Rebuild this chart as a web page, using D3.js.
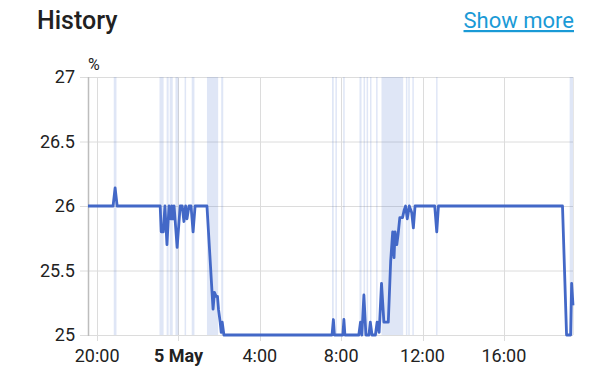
<!DOCTYPE html>
<html>
<head>
<meta charset="utf-8">
<script src="https://cdn.jsdelivr.net/npm/d3@7"></script>
<style>
  html, body { margin: 0; padding: 0; background: #fff; }
  body { width: 612px; height: 376px; overflow: hidden; font-family: Roboto, "Noto Sans", sans-serif; }
</style>
</head>
<body>
<svg id="chart" width="612" height="376"></svg>
<script>
const times = [
  "05-04 19:33", "05-04 20:47", "05-04 20:53", "05-04 20:59", "05-04 23:06", "05-04 23:09",
  "05-04 23:15", "05-04 23:20", "05-04 23:26", "05-04 23:32", "05-04 23:37", "05-04 23:40",
  "05-04 23:43", "05-04 23:47", "05-04 23:56", "05-05 00:05", "05-05 00:11", "05-05 00:16",
  "05-05 00:21", "05-05 00:25", "05-05 00:31", "05-05 00:37", "05-05 00:43", "05-05 00:49",
  "05-05 01:24", "05-05 01:39", "05-05 01:42", "05-05 01:46", "05-05 01:51", "05-05 01:55",
  "05-05 01:58", "05-05 02:03", "05-05 02:06", "05-05 02:09", "05-05 02:14", "05-05 07:33",
  "05-05 07:37", "05-05 07:40", "05-05 08:05", "05-05 08:08", "05-05 08:11", "05-05 08:52",
  "05-05 08:57", "05-05 09:01", "05-05 09:07", "05-05 09:13", "05-05 09:22", "05-05 09:26",
  "05-05 09:31", "05-05 09:41", "05-05 09:46", "05-05 09:52", "05-05 09:59", "05-05 10:06",
  "05-05 10:19", "05-05 10:26", "05-05 10:32", "05-05 10:36", "05-05 10:39", "05-05 10:44",
  "05-05 10:48", "05-05 10:53", "05-05 11:01", "05-05 11:06", "05-05 11:10", "05-05 11:15",
  "05-05 11:21", "05-05 11:28", "05-05 11:33", "05-05 11:38", "05-05 12:36", "05-05 12:42",
  "05-05 12:47", "05-05 18:53", "05-05 19:05", "05-05 19:17", "05-05 19:20", "05-05 19:24"
];
const values = [
  26, 26, 26.14, 26, 26, 25.8,
  25.8, 26, 25.7, 26, 25.9, 26,
  25.9, 26, 25.68, 26, 26, 25.88,
  26, 25.9, 26, 26, 25.8, 26,
  26, 25.33, 25.2, 25.33, 25.3, 25.3,
  25.2, 25.1, 25.02, 25.1, 25, 25,
  25.12, 25, 25, 25.12, 25, 25,
  25.1, 25, 25.31, 25, 25, 25.1,
  25, 25, 25.1, 25.02, 25.4, 25.1,
  25.1, 25.57, 25.8, 25.6, 25.8, 25.7,
  25.78, 25.91, 25.91, 25.97, 26, 25.9,
  26, 25.95, 25.83, 26, 26, 25.8,
  26, 26, 25, 25, 25.4, 25.23
];

// shaded spans (start, end)
const bandStarts = [
  "05-04 20:49", "05-04 23:04", "05-04 23:25", "05-04 23:34", "05-04 23:51", "05-05 00:18",
  "05-05 00:39", "05-05 01:24", "05-05 02:06", "05-05 07:33", "05-05 07:43", "05-05 08:06",
  "05-05 08:54", "05-05 09:06", "05-05 09:15", "05-05 09:25", "05-05 09:43", "05-05 09:59",
  "05-05 11:11", "05-05 11:18", "05-05 11:30", "05-05 12:40", "05-05 19:14"
];
const bandEnds = [
  "05-04 20:57", "05-04 23:16", "05-04 23:31", "05-04 23:43", "05-05 00:00", "05-05 00:22",
  "05-05 00:47", "05-05 01:57", "05-05 02:12", "05-05 07:38", "05-05 07:46", "05-05 08:09",
  "05-05 09:00", "05-05 09:10", "05-05 09:18", "05-05 09:29", "05-05 09:47", "05-05 11:03",
  "05-05 11:15", "05-05 11:22", "05-05 11:33", "05-05 12:44", "05-05 19:24"
];

const domainTimes = ["05-04 19:33", "05-05 19:24"];
const xTickTimes = ["05-04 20:00", "05-05 00:00", "05-05 04:00", "05-05 08:00", "05-05 12:00", "05-05 16:00"];
const yTicks = [25, 25.5, 26, 26.5, 27];

const parse = d3.timeParse("%m-%d %H:%M");

const plotLeft = 88, plotRight = 573, plotTop = 77, plotBottom = 335;

const svg = d3.select("#chart");

const x = d3.scaleTime()
  .domain(domainTimes.map(parse))
  .range([plotLeft, plotRight]);

const y = d3.scaleLinear()
  .domain([25, 27])
  .range([plotBottom, plotTop]);

// header
svg.append("text")
  .attr("x", 37).attr("y", 29)
  .attr("font-size", 25).attr("font-weight", 500)
  .attr("fill", "#212121")
  .text("History");

svg.append("text")
  .attr("x", 574).attr("y", 28)
  .attr("text-anchor", "end")
  .attr("font-size", 22)
  .attr("fill", "#1a9ad6")
  .attr("text-decoration", "underline")
  .text("Show more");

// unit
svg.append("text")
  .attr("x", 88).attr("y", 70)
  .attr("font-size", 16)
  .attr("fill", "#222")
  .text("%");

// grid
const grid = svg.append("g");

grid.selectAll("line.h")
  .data(yTicks)
  .enter().append("line")
  .attr("class", "h")
  .attr("x1", plotLeft - 8).attr("x2", plotRight)
  .attr("y1", d => y(d) + 0.5).attr("y2", d => y(d) + 0.5)
  .attr("stroke", "#dcdcdc").attr("stroke-width", 1);

grid.selectAll("line.v")
  .data(xTickTimes.map(parse))
  .enter().append("line")
  .attr("class", "v")
  .attr("x1", d => Math.round(x(d)) + 0.5).attr("x2", d => Math.round(x(d)) + 0.5)
  .attr("y1", plotTop).attr("y2", plotBottom + 6)
  .attr("stroke", "#dcdcdc").attr("stroke-width", 1);

// right border
grid.append("line")
  .attr("x1", plotRight + 0.5).attr("x2", plotRight + 0.5)
  .attr("y1", plotTop).attr("y2", plotBottom)
  .attr("stroke", "#e6e6e6");

// bands
svg.append("g")
  .selectAll("rect")
  .data(bandStarts.map((s, i) => [parse(s), parse(bandEnds[i])]))
  .enter().append("rect")
  .attr("x", d => x(d[0]))
  .attr("width", d => Math.max(1.5, x(d[1]) - x(d[0])))
  .attr("y", plotTop)
  .attr("height", plotBottom - plotTop)
  .attr("fill", "#4368c7")
  .attr("fill-opacity", 0.17);

// left axis line
svg.append("line")
  .attr("x1", plotLeft + 0.5).attr("x2", plotLeft + 0.5)
  .attr("y1", plotTop).attr("y2", plotBottom + 1)
  .attr("stroke", "#bdbdbd").attr("stroke-width", 1.5);

// y labels
svg.append("g")
  .selectAll("text")
  .data(yTicks)
  .enter().append("text")
  .attr("x", 75)
  .attr("y", d => y(d))
  .attr("dy", "0.35em")
  .attr("text-anchor", "end")
  .attr("font-size", 18)
  .attr("fill", "#222")
  .text(d => d3.format("~g")(d));

// x labels
svg.append("g")
  .selectAll("text")
  .data(xTickTimes.map(parse))
  .enter().append("text")
  .attr("x", d => x(d))
  .attr("y", 362)
  .attr("text-anchor", "middle")
  .attr("font-size", 18)
  .attr("fill", "#222")
  .attr("font-weight", d => d.getHours() === 0 ? 700 : 400)
  .text(d => d.getHours() === 0 ? d3.timeFormat("%-d %b")(d) : d3.timeFormat("%-H:%M")(d));

// line
const data = times.map((t, i) => ({ t: parse(t), v: values[i] }));

svg.append("path")
  .datum(data)
  .attr("fill", "none")
  .attr("stroke", "#4368c7")
  .attr("stroke-width", 2.8)
  .attr("stroke-linejoin", "round")
  .attr("d", d3.line().x(d => x(d.t)).y(d => y(d.v)));
</script>
</body>
</html>
